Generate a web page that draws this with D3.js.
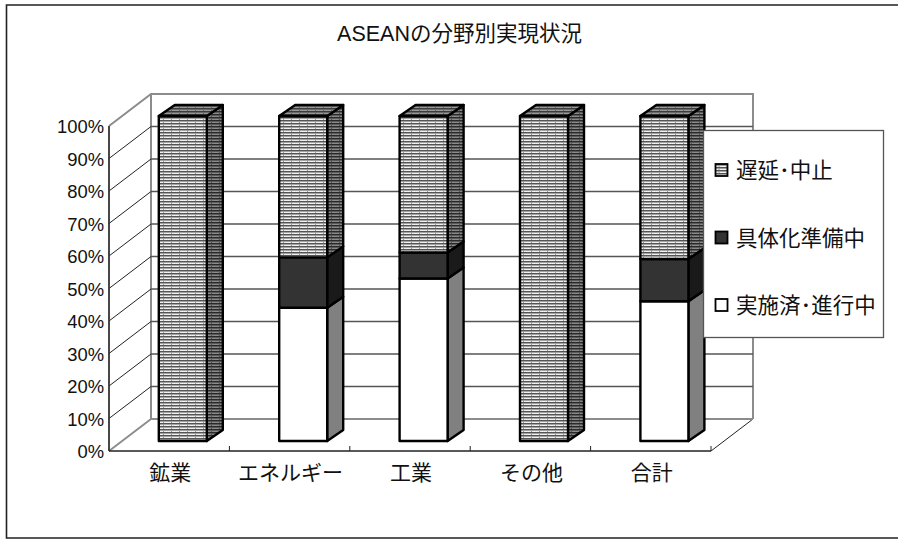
<!DOCTYPE html>
<html>
<head>
<meta charset="utf-8">
<script src="https://cdnjs.cloudflare.com/ajax/libs/d3/7.8.5/d3.min.js"></script>
<style>
html, body { margin: 0; padding: 0; background: #fff; }
text { font-family: "Liberation Sans", "Noto Sans CJK JP", sans-serif; fill: #111; }
</style>
</head>
<body>
<div id="container"></div>
<script>
// ASEAN 3D stacked bars (100%)
const categories = ["鉱業", "エネルギー", "工業", "その他", "合計"]
const seriesNames = ["実施済･進行中", "具体化準備中", "遅延･中止"]
const done = [0, 41, 50, 0, 43]
const preparing = [0, 15.5, 8, 0, 13]
const delayed = [100, 43.5, 42, 100, 44]
const yTicks = [0, 10, 20, 30, 40, 50, 60, 70, 80, 90, 100]

const width = 898,
    height = 539

const svg = d3.select("#container").append("svg")
    .attr("width", width)
    .attr("height", height)
    .style("display", "block")

const defs = svg.append("defs")

// excel style brick hatch, one light and one dark version
function hatch(id, bg, line, dash) {
    const p = defs.append("pattern").attr("id", id)
        .attr("patternUnits", "userSpaceOnUse")
        .attr("width", 8).attr("height", 3)
    p.append("rect").attr("width", 8).attr("height", 3).attr("fill", bg)
    p.append("rect").attr("y", 0).attr("width", 8).attr("height", 1.5).attr("fill", line)
    p.append("rect").attr("x", 3).attr("y", 1.5).attr("width", 1).attr("height", 1.5).attr("fill", dash)
}
hatch("brick", "#f0f0f0", "#555", "#999")
hatch("brickSide", "#8a8a8a", "#2a2a2a", "#555")
hatch("brickTop", "#999", "#3c3c3c", "#666")

const fills = [
    { front: "#fff", side: "#808080", top: "#808080" },
    { front: "#333", side: "#1a1a1a", top: "#1a1a1a" },
    { front: "url(#brick)", side: "url(#brickSide)", top: "url(#brickTop)" },
]

const plot = { left: 109, right: 711, top: 126, bottom: 451 }
const depth = { x: 42, y: -32 }
const barDepth = { x: 16, y: -11 }
const barShift = { x: 13.6, y: -10 }

const band = d3.scaleBand().domain(categories).range([plot.left, plot.right])
const y = d3.scaleLinear().domain([0, 100]).range([plot.bottom, plot.top])

// frame round the chart (no right edge in the original)
svg.append("path")
    .attr("d", `M${width},5H6.5V538H${width}`)
    .attr("fill", "none")
    .attr("stroke", "#222")
    .attr("stroke-width", 1.6)

svg.append("text")
    .attr("x", 459.5).attr("y", 41)
    .attr("text-anchor", "middle")
    .style("font-size", "21.5px")
    .text("ASEANの分野別実現状況")

// back wall, left wall and floor
const wall = svg.append("g")
const wallGrey = "#8c8c8c"
wall.append("path")
    .attr("d", `M${plot.left},${plot.top}L${plot.left + depth.x},${plot.top + depth.y}H${plot.right + depth.x}V${plot.bottom + depth.y}`)
    .attr("fill", "none").attr("stroke", wallGrey).attr("stroke-width", 2)
wall.append("line")
    .attr("x1", plot.left + depth.x).attr("x2", plot.left + depth.x)
    .attr("y1", plot.top + depth.y).attr("y2", plot.bottom + depth.y)
    .attr("stroke", wallGrey).attr("stroke-width", 2)
wall.append("line")
    .attr("x1", plot.left).attr("y1", plot.bottom)
    .attr("x2", plot.left + depth.x).attr("y2", plot.bottom + depth.y)
    .attr("stroke", wallGrey).attr("stroke-width", 2)
wall.append("line")
    .attr("x1", plot.right).attr("y1", plot.bottom)
    .attr("x2", plot.right + depth.x).attr("y2", plot.bottom + depth.y)
    .attr("stroke", "#222")

// grid lines: diagonal on the left wall, straight on the back
const grid = wall.selectAll(".grid").data(yTicks.slice(0, -1)).enter().append("g").attr("class", "grid")
grid.append("line")
    .attr("x1", plot.left + depth.x).attr("x2", plot.right + depth.x)
    .attr("y1", d => y(d) + depth.y).attr("y2", d => y(d) + depth.y)
    .attr("stroke", d => d === 0 ? wallGrey : "#555").attr("stroke-width", d => d === 0 ? 2 : 1.3)
grid.filter(d => d > 0).append("line")
    .attr("x1", plot.left).attr("y1", d => y(d))
    .attr("x2", plot.left + depth.x).attr("y2", d => y(d) + depth.y)
    .attr("stroke", "#222")

// value axis
const yAxis = d3.axisLeft(y).tickValues(yTicks).tickSize(2).tickPadding(3).tickFormat(d => d + "%")
const yG = svg.append("g").attr("transform", `translate(${plot.left},0)`).call(yAxis)
yG.selectAll("text").style("font-size", "18.4px").attr("dy", "0.36em").attr("text-anchor", "end")
yG.selectAll("line").attr("stroke", "#333").attr("x1", 0).attr("x2", 0)
yG.select(".domain").attr("d", `M0,${plot.top}V${plot.bottom}`).attr("stroke", "#333").attr("stroke-width", 1.8)

// category axis
const xAxis = d3.axisBottom(band).tickSize(0).tickPadding(14)
const xG = svg.append("g").attr("transform", `translate(0,${plot.bottom})`).call(xAxis)
xG.select(".domain").attr("d", `M${plot.left},0H${plot.right}`).attr("stroke", "#222").attr("stroke-width", 1.4)
xG.selectAll("text").style("font-size", "21px")
    .attr("x", 1)
xG.selectAll(".bound").data(d3.range(1, categories.length + 1)).enter().append("line")
    .attr("class", "bound")
    .attr("x1", i => plot.left + i * band.step()).attr("x2", i => plot.left + i * band.step())
    .attr("y1", 0).attr("y2", -5)
    .attr("stroke", "#222")

// stacks
const rows = categories.map((c, i) => ({ category: c, s0: done[i], s1: preparing[i], s2: delayed[i] }))
const stacked = d3.stack().keys(["s0", "s1", "s2"])(rows)
const barWidth = 48

const bars = svg.append("g").attr("id", "bars")
stacked.forEach((layer, k) => {
    layer.forEach(d => {
        if (d[1] - d[0] <= 0) return
        const xL = band(d.data.category) + band.bandwidth() / 2 - barWidth / 2 + barShift.x
        const xR = xL + barWidth
        const yB = y(d[0]) + barShift.y
        const yT = y(d[1]) + barShift.y
        const g = bars.append("g")
            .attr("stroke", "#000").attr("stroke-width", 2.4).attr("stroke-linejoin", "round")
        g.append("path")
            .attr("d", `M${xR},${yT}L${xR + barDepth.x},${yT + barDepth.y}V${yB + barDepth.y}L${xR},${yB}Z`)
            .attr("fill", fills[k].side)
        g.append("rect")
            .attr("x", xL).attr("y", yT)
            .attr("width", barWidth).attr("height", yB - yT)
            .attr("fill", fills[k].front)
        if (d[1] >= 99.99) {
            g.append("path")
                .attr("d", `M${xL},${yT}L${xL + barDepth.x},${yT + barDepth.y}H${xR + barDepth.x}L${xR},${yT}Z`)
                .attr("fill", fills[k].top)
        }
    })
})

// legend
const legend = svg.append("g").attr("id", "legend")
legend.append("rect")
    .attr("x", 703.5).attr("y", 130.5)
    .attr("width", 180).attr("height", 207)
    .attr("fill", "#fff").attr("stroke", "#555").attr("stroke-width", 1.3)

const legendY = d3.scalePoint().domain(seriesNames.slice().reverse()).range([170, 305])
const item = legend.selectAll(".item").data(seriesNames).enter().append("g")
    .attr("class", "item")
    .attr("transform", d => `translate(715.5,${legendY(d)})`)
item.append("rect")
    .attr("x", 0).attr("y", -6).attr("width", 12).attr("height", 12)
    .attr("fill", (d, i) => fills[i].front)
    .attr("stroke", "#000").attr("stroke-width", 1.8)
item.append("text")
    .attr("x", 20.5).attr("dy", "0.38em")
    .style("font-size", "21.5px")
    .text(d => d)
</script>
</body>
</html>
